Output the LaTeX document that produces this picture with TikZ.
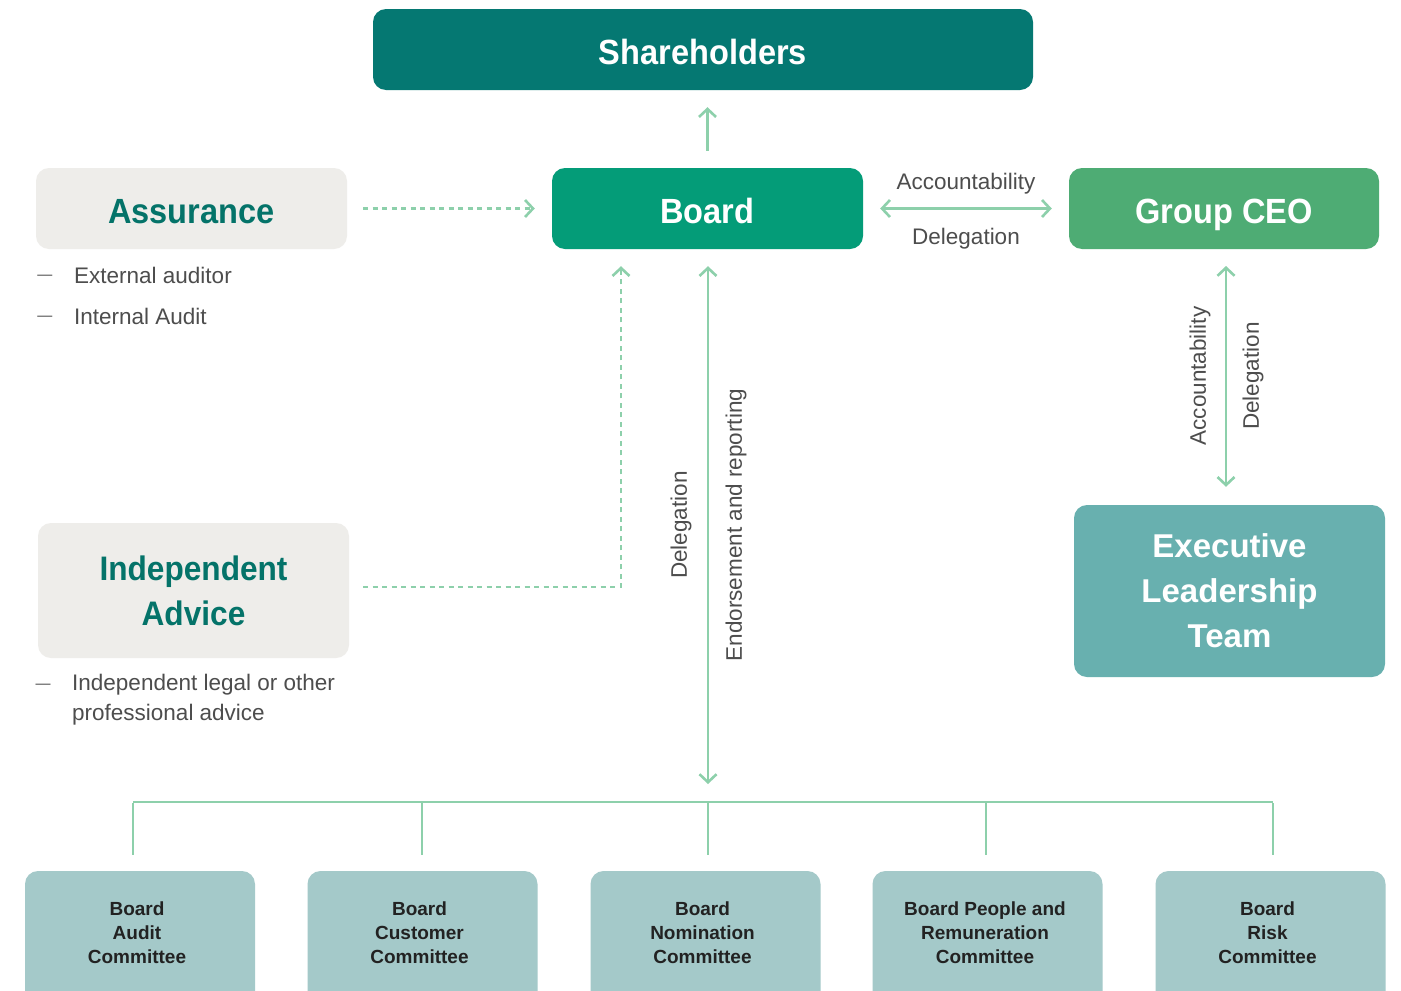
\documentclass[tikz,border=0pt]{standalone}
\usepackage{fontspec}
\setmainfont{Liberation Sans}
\newfontfamily\titlefont[FakeStretch=0.93]{Liberation Sans}
\usetikzlibrary{arrows.meta}
\definecolor{shareC}{HTML}{057872}
\definecolor{boardC}{HTML}{049C78}
\definecolor{ceoC}{HTML}{4EAC74}
\definecolor{eltC}{HTML}{68B0AF}
\definecolor{comC}{HTML}{A4C9C9}
\definecolor{greyC}{HTML}{EEEDEA}
\definecolor{arrC}{HTML}{8DD0AB}
\definecolor{titleC}{HTML}{047369}
\definecolor{txtC}{HTML}{4D4D4D}
\definecolor{comTxt}{HTML}{222222}
\tikzset{
  box/.style={rounded corners=13pt, inner sep=0pt, align=center, draw=none},
  bigtitle/.style={font=\titlefont\fontsize{35}{45}\selectfont\bfseries, text height=29.5pt, text depth=0pt},
  lbl/.style={font=\fontsize{22.5}{30}\selectfont, text=txtC, inner sep=0pt},
  dashlbl/.style={font=\fontsize{15}{15}\selectfont, text=txtC, inner sep=0pt},
  comtxt/.style={font=\fontsize{19}{24}\selectfont\bfseries, text=comTxt, align=center, inner sep=0pt},
  conn/.style={draw=arrC, line width=2.6pt},
  arr/.style={conn, -{Straight Barb[length=8pt,width=17pt,line width=2.6pt]}},
  darr/.style={conn, {Straight Barb[length=8pt,width=17pt,line width=2.6pt]}-{Straight Barb[length=8pt,width=17pt,line width=2.6pt]}},
  dasharr/.style={arr, dash pattern=on 5pt off 4.5pt},
}
\begin{document}
\begin{tikzpicture}[x=1pt,y=-1pt]
\useasboundingbox (0,0) rectangle (1401,991);
\clip (0,0) rectangle (1401,991);
\fill[white] (0,0) rectangle (1401,991);

% main boxes
\node[box, fill=shareC, text=white, bigtitle, minimum width=660, minimum height=81] (sh) at (703,49.5) {Shareholders};
\node[box, fill=boardC, text=white, bigtitle, minimum width=311, minimum height=81] (bd) at (707.5,208.5) {Board};
\node[box, fill=ceoC, text=white, bigtitle, minimum width=310, minimum height=81] (ceo) at (1224,208.5) {Group CEO};
\node[box, fill=greyC, text=titleC, bigtitle, minimum width=311, minimum height=81] (as) at (191.5,208.5) {Assurance};
\node[box, fill=greyC, text=titleC, font=\titlefont\fontsize{34}{45}\selectfont\bfseries, minimum width=311, minimum height=135] (ia) at (193.5,590.5) {Independent\\Advice};
\node[box, fill=eltC, text=white, font=\fontsize{33}{45}\selectfont\bfseries, minimum width=311, minimum height=172] (elt) at (1229.5,591) {Executive\\Leadership\\Team};

% committees
\foreach \n/\x in {1/140,2/422.5,3/705.5,4/987.5,5/1270.5}{
  \node[box, fill=comC, minimum width=230, minimum height=150] (c\n) at (\x,946) {};
}
\node[comtxt] (c1t) at (137,933) {Board\\Audit\\Committee};
\node[comtxt] (c2t) at (419.5,933) {Board\\Customer\\Committee};
\node[comtxt] (c3t) at (702.5,933) {Board\\Nomination\\Committee};
\node[comtxt] (c4t) at (985,933) {Board People and\\Remuneration\\Committee};
\node[comtxt] (c5t) at (1267.5,933) {Board\\Risk\\Committee};

% bullet texts
\node[dashlbl] (d1) at (45,277) {—};
\node[lbl, anchor=west] (t1) at (74,275) {External auditor};
\node[dashlbl] (d2) at (45,318) {—};
\node[lbl, anchor=west] (t2) at (74,316) {Internal Audit};
\node[dashlbl] (d3) at (43,686) {—};
\node[lbl, anchor=north west, align=left] (t3) at (72,674) {Independent legal or other\\professional advice};

% connectors
\draw[arr, shorten <=17pt, shorten >=17pt] (bd.north) -- (bd.north |- sh.south);
\draw[darr, shorten <=17pt, shorten >=17pt] (bd.east) -- (ceo.west);
\node[lbl] (accH) at (966,184) {Accountability};
\node[lbl] (delH) at (966,239) {Delegation};

\draw[dasharr, shorten <=16pt, shorten >=17pt] (as.east) -- (bd.west);
\coordinate (iaCorner) at (621,587);
\draw[dasharr, shorten <=14pt, shorten >=17pt] (ia.east |- iaCorner) -- (iaCorner) -- (iaCorner |- bd.south);

\coordinate (busMid) at (708,802);
\draw[darr, shorten <=17pt, shorten >=18pt] (bd.south -| busMid) -- (busMid);
\node[lbl, rotate=90] (delV) at (681,525) {Delegation};
\node[lbl, rotate=90] (endV) at (736,525) {Endorsement and reporting};

\coordinate (ceoLine) at (1226,249);
\draw[darr, shorten <=17pt, shorten >=18pt] (ceoLine) -- (ceoLine |- elt.north);
\node[lbl, rotate=90] (accV) at (1200,376) {Accountability};
\node[lbl, rotate=90] (delV2) at (1253,376) {Delegation};

% bus
\coordinate (b1) at (133,802);
\coordinate (b2) at (422,802);
\coordinate (b3) at (708,802);
\coordinate (b4) at (986,802);
\coordinate (b5) at (1273,802);
\draw[conn] (b1) -- (b5);
\foreach \n in {1,...,5}{
  \draw[conn, shorten >=16pt] ([yshift=-1.3pt]b\n) -- (b\n |- c\n.north);
}
\end{tikzpicture}
\end{document}
